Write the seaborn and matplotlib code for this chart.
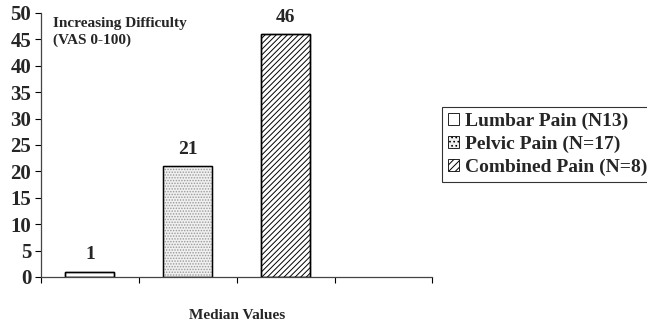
import pandas as pd
import seaborn as sns
import matplotlib.pyplot as plt

# データ
groups = ["Lumbar Pain (N13)", "Pelvic Pain (N=17)", "Combined Pain (N=8)"]
medians = [1, 21, 46]
yticks = list(range(0, 51, 5))

df = pd.DataFrame({"group": groups, "median": medians})

sns.set_style("white")
plt.rcParams['font.family'] = ['Liberation Serif', 'DejaVu Serif']
plt.rcParams['font.weight'] = 'bold'
plt.rcParams['hatch.linewidth'] = 0.7

fig = plt.figure(figsize=(6.47, 3.25), dpi=100)
ax = fig.add_axes([0.0634, 0.148, 0.605, 0.812])

# 4つ目の枠は空
order = groups + [" "]
sns.barplot(data=df, x="group", y="median", hue="group", order=order,
            hue_order=groups, dodge=False, width=0.5, ax=ax, legend=False,
            palette=["white", "#f0f0f0", "white"], edgecolor="black",
            linewidth=1.0, saturation=1)

hatches = ["", "......", "//////"]
for cont, h in zip(ax.containers, hatches):
    for p in cont:
        p.set_hatch(h)
        if h == "......":
            p.set_edgecolor("#999999")
    ax.bar_label(cont, fmt="%d", padding=6, fontsize=14, fontweight="bold")

# 外枠を黒で
for cont in ax.containers:
    for p in cont:
        ax.add_patch(plt.Rectangle(p.get_xy(), p.get_width(), p.get_height(),
                                   fill=False, edgecolor="black", lw=1.0))

ax.set_xlim(-0.5, 3.5)
ax.set_ylim(0, 50)
ax.set_yticks(yticks)
ax.set_yticklabels([str(t) for t in yticks], fontsize=15, fontweight="bold")
ax.set_xticks([-0.5, 0.5, 1.5, 2.5, 3.5])
ax.set_xticklabels([])
ax.tick_params(axis="both", direction="out", length=4, width=0.8, color="black",
               left=True, bottom=True, pad=3)
ax.set_xlabel("Median Values", fontsize=11, fontweight="bold", labelpad=16)
ax.set_ylabel("")
for s in ["top", "right"]:
    ax.spines[s].set_visible(False)
ax.spines["left"].set_color("#444444")
ax.spines["bottom"].set_color("#444444")
ax.spines["left"].set_linewidth(0.9)
ax.spines["bottom"].set_linewidth(0.9)

ax.text(0.03, 0.985, "Increasing Difficulty\n(VAS 0-100)", transform=ax.transAxes,
        fontsize=11, fontweight="bold", va="top", ha="left", linespacing=1.3)

handles = [plt.Rectangle((0, 0), 1, 1, facecolor=c, edgecolor="black", hatch=h, lw=0.6)
           for c, h in zip(["white", "#f0f0f0", "white"], ["", "....", "/////"])]
leg = fig.legend(handles, groups, loc="upper left", bbox_to_anchor=(0.683, 0.672),
                 frameon=True, fancybox=False, edgecolor="black", fontsize=14,
                 handlelength=0.6, handleheight=0.6, handletextpad=0.3,
                 labelspacing=0.3, borderpad=0.3, borderaxespad=0)
leg.get_frame().set_linewidth(0.8)
for t in leg.get_texts():
    t.set_fontweight("bold")

fig.savefig("out.png", dpi=100)
